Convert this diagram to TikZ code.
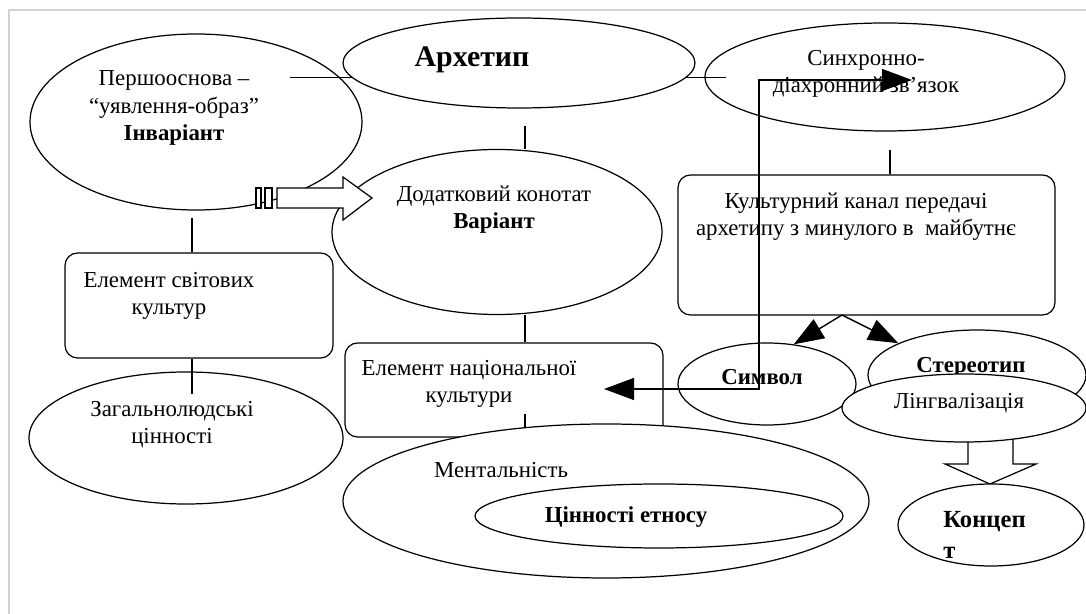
\documentclass[tikz,border=0pt]{standalone}
\usepackage{fontspec}
\setmainfont{Liberation Serif}
\usetikzlibrary{shapes.geometric,arrows.meta}

\begin{document}
\begin{tikzpicture}[x=0.02cm, y=-0.02cm,
    outline/.style={draw, fill=white, line width=0.7pt, inner sep=0pt},
    oval/.style 2 args={outline, ellipse, minimum width=#1*0.02cm, minimum height=#2*0.02cm},
    card/.style 2 args={outline, rectangle, rounded corners=0.25cm, minimum width=#1*0.02cm, minimum height=#2*0.02cm},
    txt/.style={align=center, font=\fontsize{13}{15.4}\selectfont},
    txtb/.style={align=center, font=\fontsize{13}{15.4}\selectfont\bfseries},
    joint/.style={line width=0.7pt},
    twohead/.style={line width=0.8pt, {Triangle[length=0.6cm, width=0.44cm]}-{Triangle[length=0.6cm, width=0.44cm]}},
    headline/.style={line width=0.8pt, -{Triangle[length=0.6cm, width=0.44cm]}},
    hollow/.style={draw, fill=white, line width=0.7pt}]

    \useasboundingbox (0,0) rectangle (1086,614);

    % Page frame
    \draw[gray!35, line width=0.8pt] (1086,10) -- (9,10) -- (9,614);

    % Points where the plain connectors run
    \coordinate (leftx) at (192,218);
    \coordinate (midx) at (525,126);
    \coordinate (rightx) at (890,150);

    % Left column
    \node[oval={332}{176}] (pers) at (196,122) {};
    \node[txt] (perst) at (174,108) {Першооснова –\\“уявлення-образ”\\\textbf{Інваріант}};
    \node[card={268}{105}] (svit) at (199,305.5) {};
    \node[txt] (svitt) at (169,296) {Елемент світових\\культур};
    \node[oval={314}{132}] (zah) at (186,438) {};
    \node[txt] (zaht) at (172,425) {Загальнолюдські\\цінності};

    % Middle column
    \node[oval={352}{90}] (arch) at (519,63) {};
    \node[font=\fontsize{17}{20}\selectfont\bfseries] (archt) at (472,60) {Архетип};
    \node[oval={330}{165}] (dod) at (497,232) {};
    \node[txt] (dodt) at (494,210) {Додатковий конотат\\\textbf{Варіант}};
    \node[card={318}{94}] (nat) at (504,390) {};
    \node[txt] (natt) at (469,384) {Елемент національної\\культури};
    \draw[joint] (midx |- nat.south) ++(0,-24) -- ++(0,30);
    \node[oval={526}{154}] (ment) at (606,501) {};
    \node[txt] (mentt) at (501,470) {Ментальність};
    \node[oval={368}{64}] (tsinn) at (659,516) {};
    \node[txtb] (tsinnt) at (626,517) {Цінності етносу};

    % Right column
    \node[oval={360}{108}] (synch) at (885,77) {};
    \node[txt] (syncht) at (866,74) {Синхронно-\\діахронний зв’язок};
    \node[card={377}{140}] (kult) at (866.5,245) {};
    \node[txt] (kultt) at (856,217) {Культурний канал передачі\\архетипу з минулого в\ \ майбутнє};
    \node[oval={178}{82}] (symv) at (767,384) {};
    \node[txtb] (symvt) at (762,377) {Символ};
    \node[oval={218}{90}] (ster) at (977,375) {};
    \node[txtb] (stert) at (971,367) {Стереотип};
    \draw[hollow] (968,425) -- (968,464) -- (945,464) -- (990,484) -- (1036,464) -- (1013,464) -- (1013,425) -- cycle;
    \node[oval={244}{68}] (lingv) at (964,408) {};
    \node[txt] (lingvt) at (959,403) {Лінгвалізація};
    \node[oval={186}{82}] (konc) at (991,525) {};
    \node[font=\fontsize{14}{17.6}\selectfont\bfseries, align=left, anchor=west, inner sep=0pt] (konct) at (943,535) {Концеп\\т};

    % Plain connectors
    \draw[joint] (arch.185) -- ++(-62,0);
    \draw[joint] (arch.-5) -- ++(40,0);
    \draw[joint] (midx) -- (midx |- dod.north);
    \draw[joint] (midx |- dod.south) -- (midx |- nat.north);
    \draw[joint] (leftx) -- (leftx |- svit.north);
    \draw[joint] (leftx |- svit.south) -- ++(0,35);
    \draw[joint] (rightx) -- (rightx |- kult.north);

    % Striped arrow into the connotation
    \foreach \a/\b in {256/261, 265/272}
        \draw[hollow] (\a,188) rectangle (\b,208);
    \draw[hollow] (277,188) -- (343,188) -- (343,177) -- (372,198) -- (343,220) -- (343,208) -- (277,208) -- cycle;

    % Arrows out of the channel
    \coordinate (fork) at (842,315);
    \draw[headline] (fork) -- (symv.56);
    \draw[headline] (fork) -- (ster.158);

    % Bent arrow through the symbol
    \coordinate (turn) at (759,389);
    \draw[twohead] ([xshift=-3.1cm]turn) -- (turn) |- ++(153,-309);
\end{tikzpicture}
\end{document}
